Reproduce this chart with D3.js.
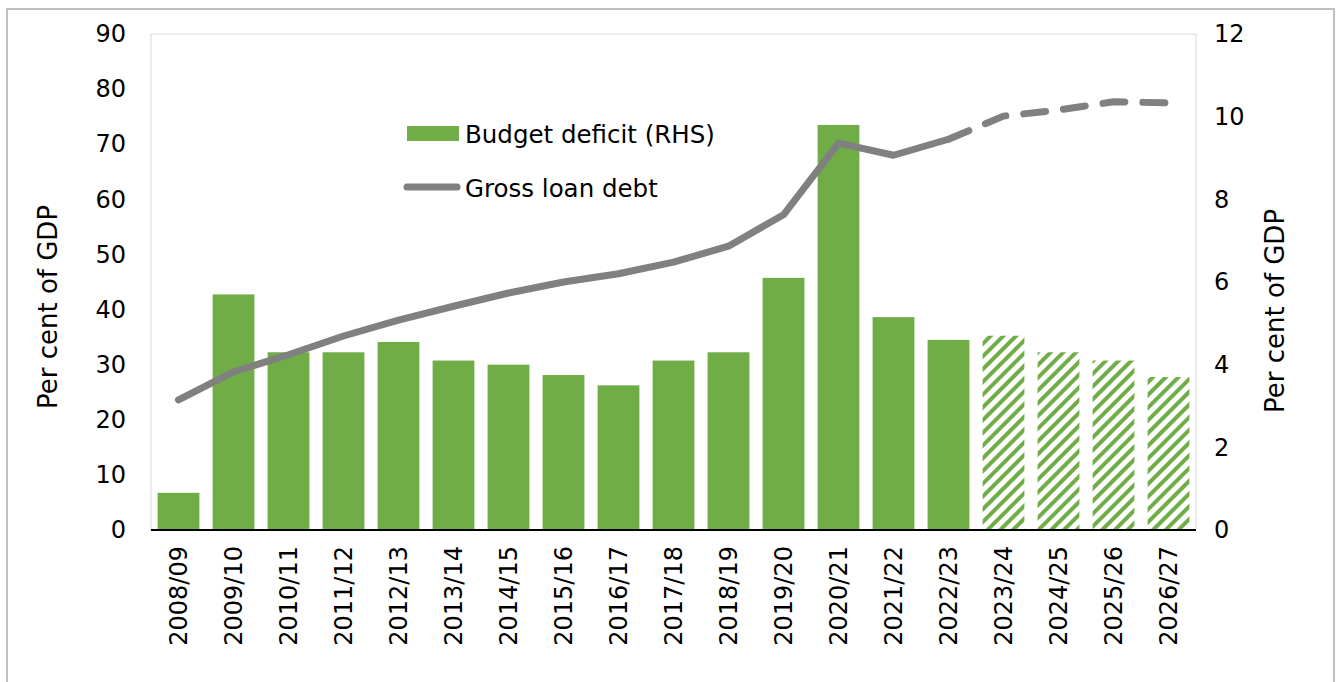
<!DOCTYPE html>
<html><head><meta charset="utf-8">
<script src="https://cdn.jsdelivr.net/npm/d3@7"></script>
<style>body{margin:0;background:#fff}svg{display:block}text{font-family:"DejaVu Sans",sans-serif;fill:#000}</style>
</head><body><svg id="c" width="1338" height="682"></svg>
<script>
const categories = ["2008/09","2009/10","2010/11","2011/12","2012/13","2013/14","2014/15","2015/16","2016/17","2017/18","2018/19","2019/20","2020/21","2021/22","2022/23","2023/24","2024/25","2025/26","2026/27"];
const deficit = [0.9,5.7,4.3,4.3,4.55,4.1,4.0,3.75,3.5,4.1,4.3,6.1,9.8,5.15,4.6,4.7,4.3,4.1,3.7];
const debt = [23.6,28.7,31.8,35.2,38.1,40.6,43.0,45.0,46.5,48.6,51.5,57.2,70.2,68.0,70.9,75.1,76.2,77.7,77.5];
const forecastStart = 15; // index of first projected year
const leftTicks = [0,10,20,30,40,50,60,70,80,90];
const rightTicks = [0,2,4,6,8,10,12];
const seriesNames = ["Budget deficit (RHS)","Gross loan debt"];
const axisTitle = "Per cent of GDP";

const svg = d3.select("#c");
const M = {l:151, r:1196, t:34, b:530};
const green = "#70ad47", grey = "#808080";

svg.append("rect").attr("x",7).attr("y",9).attr("width",1327).attr("height",690)
  .attr("fill","none").attr("stroke","#bfbfbf").attr("stroke-width",2);

const defs = svg.append("defs");
const pat = defs.append("pattern").attr("id","hatch").attr("patternUnits","userSpaceOnUse")
  .attr("width",9).attr("height",9).attr("patternTransform","rotate(45)");
pat.append("rect").attr("x",0).attr("y",0).attr("width",4).attr("height",9).attr("fill",green);

const x = d3.scaleBand().domain(categories).range([M.l,M.r]).paddingInner(0.24).paddingOuter(0.12);
const yL = d3.scaleLinear().domain([0,90]).range([M.b,M.t]);
const yR = d3.scaleLinear().domain([0,12]).range([M.b,M.t]);

svg.append("rect").attr("x",M.l).attr("y",M.t).attr("width",M.r-M.l).attr("height",M.b-M.t)
  .attr("fill","none").attr("stroke","#d9d9d9").attr("stroke-width",1);

svg.selectAll(".bar").data(categories).join("rect")
  .attr("x",d=>x(d)).attr("width",x.bandwidth())
  .attr("y",(d,i)=>yR(deficit[i])).attr("height",(d,i)=>yR(0)-yR(deficit[i]))
  .attr("fill",(d,i)=> i>=forecastStart ? "url(#hatch)" : green);

const line = d3.line().x(d=>x(d.c)+x.bandwidth()/2).y(d=>yL(d.v));
const pts = categories.map((c,i)=>({c,v:debt[i]}));
svg.append("path").attr("d",line(pts.slice(0,forecastStart)))
  .attr("fill","none").attr("stroke",grey).attr("stroke-width",7).attr("stroke-linecap","round").attr("stroke-linejoin","round");
svg.append("path").attr("d",line(pts.slice(forecastStart-1)))
  .attr("fill","none").attr("stroke",grey).attr("stroke-width",7).attr("stroke-linecap","round").attr("stroke-linejoin","round")
  .attr("stroke-dasharray","22,18");

// baseline
svg.append("line").attr("x1",M.l).attr("x2",M.r).attr("y1",M.b).attr("y2",M.b).attr("stroke","#000").attr("stroke-width",2);

// axes
const fs = 24;
const gL = svg.append("g").attr("transform",`translate(${M.l},0)`)
  .call(d3.axisLeft(yL).tickValues(leftTicks).tickSize(0).tickPadding(25));
gL.select(".domain").remove();
gL.selectAll("text").style("font-size",fs+"px");
const gR = svg.append("g").attr("transform",`translate(${M.r},0)`)
  .call(d3.axisRight(yR).tickValues(rightTicks).tickSize(0).tickPadding(18));
gR.select(".domain").remove();
gR.selectAll("text").style("font-size",fs+"px");
const gX = svg.append("g").attr("transform",`translate(0,${M.b})`)
  .call(d3.axisBottom(x).tickSize(0));
gX.select(".domain").remove();
gX.selectAll("text").style("font-size",fs+"px").attr("text-anchor","end")
  .attr("transform","rotate(-90)").attr("x",-16).attr("y",0).attr("dy","0.35em");

svg.append("text").attr("transform","translate(57,307) rotate(-90)").attr("text-anchor","middle")
  .style("font-size","26px").text(axisTitle);
svg.append("text").attr("transform","translate(1284,311) rotate(-90)").attr("text-anchor","middle")
  .style("font-size","26px").text(axisTitle);

// legend
svg.append("rect").attr("x",407).attr("y",126).attr("width",52).attr("height",15).attr("fill",green);
svg.append("text").attr("x",465).attr("y",143).style("font-size","24.5px").text(seriesNames[0]);
svg.append("line").attr("x1",407).attr("x2",457).attr("y1",187).attr("y2",187).attr("stroke",grey).attr("stroke-width",7).attr("stroke-linecap","round");
svg.append("text").attr("x",465).attr("y",197).style("font-size","24.5px").text(seriesNames[1]);
</script></body></html>
